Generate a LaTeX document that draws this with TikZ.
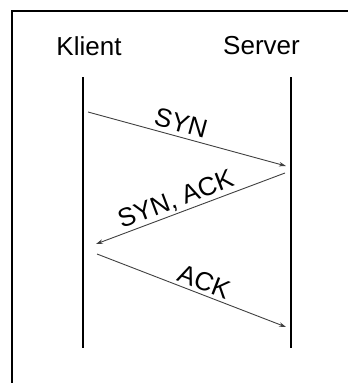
\documentclass[tikz,border=0pt]{standalone}
\usepackage{fontspec}
\setmainfont{Liberation Sans}
\usetikzlibrary{arrows.meta}
\begin{document}
\begin{tikzpicture}[x=1pt,y=-1pt,
  lbl/.style={font=\fontsize{26}{30}\selectfont, inner sep=0pt},
  life/.style={line width=2pt},
  msg/.style={line width=0.9pt, draw=black!75, -{Stealth[length=7pt,width=4.5pt]}},
  msglbl/.style={font=\fontsize{26}{30}\selectfont, inner sep=0pt}]
\useasboundingbox (0,0) rectangle (348,383);
\draw[line width=2pt] (348,11) -- (12,11) -- (12,383);
\node[lbl] (kl) at (89,46) {Klient};
\node[lbl] (sv) at (261.5,46) {Server};
\coordinate (kt) at (83,77); \coordinate (kb) at (83,348);
\coordinate (st) at (291,77); \coordinate (sb) at (291,348);
\draw[life] (kt) -- (kb);
\draw[life] (st) -- (sb);
\coordinate (a1) at (88,112); \coordinate (b1) at (286,166);
\coordinate (a2) at (285,173); \coordinate (b2) at (96,244);
\coordinate (a3) at (97,254); \coordinate (b3) at (286,327);
\draw[msg] (a1) -- (b1);
\draw[msg] (a2) -- (b2);
\draw[msg] (a3) -- (b3);
\node[msglbl, rotate=-15.3] (l1) at (181,123) {SYN};
\node[msglbl, rotate=20.7] (l2) at (176,200) {SYN, ACK};
\node[msglbl, rotate=-21.1] (l3) at (204,282) {ACK};
\end{tikzpicture}
\end{document}
